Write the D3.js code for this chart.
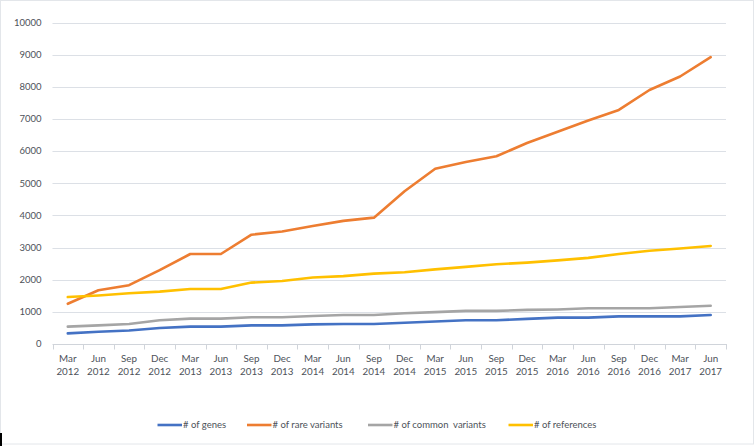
<!DOCTYPE html>
<html><head><meta charset="utf-8">
<script src="https://cdn.jsdelivr.net/npm/d3@7"></script>
<style>
html,body{margin:0;padding:0;background:#fff;}
svg text{font-family:Lato,"Open Sans",sans-serif;fill:#4D5259;}
</style></head>
<body><svg id="c" width="755" height="446"></svg>
<script>
const months = ["Mar","Jun","Sep","Dec","Mar","Jun","Sep","Dec","Mar","Jun","Sep","Dec","Mar","Jun","Sep","Dec","Mar","Jun","Sep","Dec","Mar","Jun"];
const years  = ["2012","2012","2012","2012","2013","2013","2013","2013","2014","2014","2014","2014","2015","2015","2015","2015","2016","2016","2016","2016","2017","2017"];
const genes      = [330,380,420,500,540,540,580,580,610,620,620,660,700,740,740,780,820,820,860,860,860,900];
const rareVars   = [1250,1670,1830,2300,2800,2800,3400,3500,3670,3830,3930,4750,5450,5660,5840,6250,6600,6950,7280,7900,8320,8920];
const commonVars = [540,580,620,740,790,790,830,830,870,900,900,955,990,1030,1030,1060,1075,1110,1110,1110,1150,1190];
const references = [1460,1510,1580,1630,1710,1710,1910,1960,2070,2110,2190,2230,2320,2400,2480,2530,2600,2680,2800,2900,2970,3050];
const yTicks = [0,1000,2000,3000,4000,5000,6000,7000,8000,9000,10000];
const seriesNames = ["# of genes","# of rare variants","# of common  variants","# of references"];
const seriesColors = ["#4472C4","#ED7D31","#A5A5A5","#FFC000"];
const seriesData = [genes, rareVars, commonVars, references];

const svg = d3.select("#c");
// outer frame
svg.append("rect").attr("x",0.5).attr("y",0.5).attr("width",753).attr("height",443.5)
  .attr("fill","none").attr("stroke","#E3E6EA").attr("stroke-width",1);
svg.append("line").attr("x1",1).attr("x2",1).attr("y1",433).attr("y2",446).attr("stroke","#000").attr("stroke-width",2);

const idx = d3.range(months.length);
const x = d3.scaleBand().domain(idx).range([52.5,726]);
const y = d3.scaleLinear().domain([0,10000]).range([344,22.5]);

// gridlines
svg.append("g").selectAll("line").data(yTicks.filter(d=>d>0)).join("line")
  .attr("x1",52.5).attr("x2",726).attr("y1",d=>Math.round(y(d))+0.5).attr("y2",d=>Math.round(y(d))+0.5)
  .attr("stroke","#DCE0E6").attr("stroke-width",1.2);

// y labels
svg.append("g").selectAll("text").data(yTicks).join("text")
  .attr("x",41.5).attr("y",d=>y(d)).attr("dy","0.35em").attr("text-anchor","end")
  .attr("font-size","9.5px").text(d=>d);

// x axis line and ticks
const xa = svg.append("g");
xa.append("line").attr("x1",52.5).attr("x2",726).attr("y1",344.5).attr("y2",344.5).attr("stroke","#D0D4DA");
const edges = idx.map(i=>x(i)).concat([x(idx[idx.length-1])+x.bandwidth()]);
xa.selectAll("line.t").data(edges).join("line").attr("class","t")
  .attr("x1",d=>Math.round(d)+0.5).attr("x2",d=>Math.round(d)+0.5).attr("y1",344).attr("y2",349.5).attr("stroke","#D0D4DA");
const xl = xa.selectAll("text.m").data(idx).join("text").attr("class","m")
  .attr("text-anchor","middle").attr("font-size","9.8px");
xl.append("tspan").attr("x",i=>x(i)+x.bandwidth()/2).attr("y",362).text(i=>months[i]);
xl.append("tspan").attr("x",i=>x(i)+x.bandwidth()/2).attr("y",375).text(i=>years[i]);

// lines
const line = d3.line().x((d,i)=>x(i)+x.bandwidth()/2).y(d=>y(d));
svg.append("g").selectAll("path").data(seriesData).join("path")
  .attr("d",line).attr("fill","none").attr("stroke",(d,i)=>seriesColors[i])
  .attr("stroke-width",2.6).attr("stroke-linejoin","round").attr("stroke-linecap","round");

// legend
const legX = [157.5,247,368,508.5];
const lg = svg.append("g").selectAll("g").data(seriesNames).join("g")
  .attr("transform",(d,i)=>`translate(${legX[i]},425)`);
lg.append("line").attr("x1",0).attr("x2",24.5).attr("y1",0).attr("y2",0)
  .attr("stroke",(d,i)=>seriesColors[i]).attr("stroke-width",2.6);
lg.append("text").attr("x",25.5).attr("y",0).attr("dy","0.35em").attr("font-size","9.5px")
  .style("white-space","pre").text(d=>d);
</script></body></html>
